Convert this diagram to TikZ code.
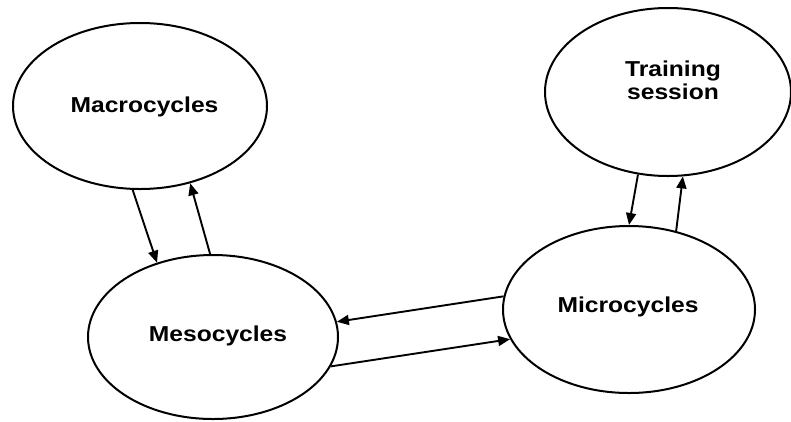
\documentclass[tikz,border=0pt]{standalone}
\usepackage{fontspec}
\setmainfont{Liberation Sans}
\newfontfamily\labfont[FakeStretch=1.14]{Liberation Sans}
\usetikzlibrary{arrows.meta,shapes.geometric}
\begin{document}
\begin{tikzpicture}[x=1pt,y=-1pt,
  ell/.style={draw, ellipse, line width=2pt, inner sep=0pt},
  lbl/.style={font=\labfont\bfseries\fontsize{21.6}{23.5}\selectfont, anchor=base, inner sep=0pt},
  conn/.style={line width=1.9pt, -{Triangle[length=12pt,width=10pt]}}]
\useasboundingbox (0,0) rectangle (791,421);
\node[ell, minimum width=254pt, minimum height=166pt] (macro) at (140,106) {};
\node[ell, minimum width=250pt, minimum height=164pt] (meso) at (213,337) {};
\node[ell, minimum width=252pt, minimum height=167pt] (micro) at (629,309.5) {};
\node[ell, minimum width=246pt, minimum height=168pt] (train) at (668,92) {};
\node[lbl] (macroT) at (144.5,112.7) {Macrocycles};
\node[lbl] (mesoT) at (218,341) {Mesocycles};
\node[lbl] (microT) at (628,312.7) {Microcycles};
\node[lbl, align=center] (trainT) at (673,99.5) {Training\\session};
\draw[conn] (macro.-95) -- (meso.127);
\draw[conn] (meso.92) -- (macro.-57);
\draw[conn] (train.-110) -- (micro.90);
\draw[conn] (micro.59) -- (train.-80);
\draw[conn] (micro.174) -- (meso.7);
\draw[conn] (meso.-14) -- (micro.194);
\end{tikzpicture}
\end{document}
